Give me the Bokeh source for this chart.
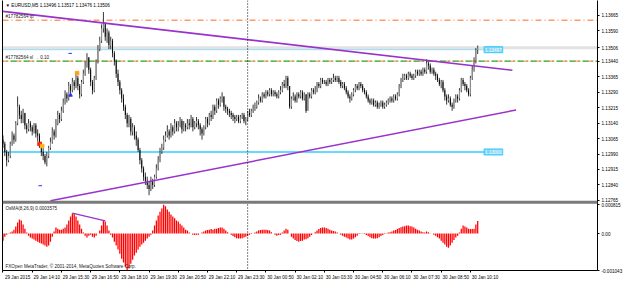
from bokeh.plotting import figure
from bokeh.models import Range1d, LinearAxis, FixedTicker, Span, Label, ColumnDataSource
from bokeh.embed import file_html
from bokeh.resources import INLINE

FONT = "Liberation Sans"
FS = "4.6px"

# ---------------- data ----------------
TIME_LABELS = ["29 Jan 2015", "29 Jan 14:10", "29 Jan 15:30", "29 Jan 16:50", "29 Jan 18:10",
               "29 Jan 19:30", "29 Jan 20:50", "29 Jan 22:10", "29 Jan 23:30", "30 Jan 00:50",
               "30 Jan 02:10", "30 Jan 03:30", "30 Jan 04:50", "30 Jan 06:10", "30 Jan 07:30",
               "30 Jan 08:50", "30 Jan 10:10"]
BARS_PER_LABEL = 16
DAY_SEPARATOR_BAR = 134

FIRST_OPEN = 1.1306
CLOSE = [
    1.1304, 1.1300, 1.1296, 1.1298, 1.1304, 1.1308, 1.1306, 1.1314, 1.1322, 1.1318,
    1.1316, 1.1319, 1.1313, 1.1311, 1.1314, 1.1312, 1.1310, 1.1313, 1.1309, 1.1308,
    1.1304, 1.1300, 1.1298, 1.1295, 1.1298, 1.1302, 1.1305, 1.1310, 1.1308, 1.1314,
    1.1318, 1.1316, 1.1320, 1.1324, 1.1328, 1.1326, 1.1332, 1.1330, 1.1334, 1.1332,
    1.1336, 1.1332, 1.1328, 1.1334, 1.1338, 1.1342, 1.1346, 1.1340, 1.1334, 1.1330,
    1.1336, 1.1344, 1.1350, 1.1354, 1.1360, 1.1362, 1.1356, 1.1358, 1.1352, 1.1354,
    1.1348, 1.1344, 1.1338, 1.1334, 1.1330, 1.1326, 1.1322, 1.1318, 1.1314, 1.1316,
    1.1310, 1.1312, 1.1308, 1.1306, 1.1301, 1.1296, 1.1292, 1.1288, 1.1286, 1.1284,
    1.1282, 1.1286, 1.1284, 1.1288, 1.1292, 1.1296, 1.1300, 1.1302, 1.1306, 1.1308,
    1.1310, 1.1308, 1.1312, 1.1310, 1.1314, 1.1312, 1.1313, 1.1315, 1.1311, 1.1313,
    1.1312, 1.1314, 1.1313, 1.1316, 1.1312, 1.1314, 1.1315, 1.1313, 1.1311, 1.1309,
    1.1312, 1.1316, 1.1314, 1.1318, 1.1317, 1.1322, 1.1320, 1.1325, 1.1323, 1.1326,
    1.1327, 1.1322, 1.1321, 1.1320, 1.1319, 1.1318, 1.1317, 1.1316, 1.1317, 1.1315,
    1.1317, 1.1318, 1.1315, 1.1316, 1.1319, 1.1318, 1.1320, 1.1321, 1.1322, 1.1324,
    1.1326, 1.1325, 1.1328, 1.1327, 1.1329, 1.1328, 1.1330, 1.1328, 1.1329, 1.1328,
    1.1327, 1.1329, 1.1330, 1.1333, 1.1332, 1.1336, 1.1332, 1.1322, 1.1326, 1.1327,
    1.1325, 1.1328, 1.1327, 1.1329, 1.1326, 1.1328, 1.1320, 1.1328, 1.1327, 1.1330,
    1.1329, 1.1330, 1.1333, 1.1332, 1.1335, 1.1334, 1.1334, 1.1333, 1.1335, 1.1334,
    1.1335, 1.1336, 1.1335, 1.1336, 1.1334, 1.1332, 1.1333, 1.1331, 1.1329, 1.1327,
    1.1326, 1.1328, 1.1330, 1.1332, 1.1331, 1.1333, 1.1332, 1.1330, 1.1329, 1.1327,
    1.1325, 1.1324, 1.1325, 1.1323, 1.1324, 1.1322, 1.1323, 1.1324, 1.1322, 1.1323,
    1.1324, 1.1325, 1.1326, 1.1325, 1.1327, 1.1326, 1.1328, 1.1332, 1.1335, 1.1336,
    1.1337, 1.1336, 1.1338, 1.1337, 1.1336, 1.1337, 1.1339, 1.1338, 1.1339, 1.1338,
    1.1340, 1.1339, 1.1343, 1.1342, 1.1339, 1.1340, 1.1338, 1.1337, 1.1335, 1.1333,
    1.1334, 1.1330, 1.1327, 1.1325, 1.1326, 1.1323, 1.1322, 1.1325, 1.1327, 1.1326,
    1.1330, 1.1335, 1.1333, 1.1332, 1.1330, 1.1328, 1.1336, 1.1340, 1.1344, 1.13496,
    1.13506]
HIGH = [
    1.1308, 1.1305, 1.1301, 1.1300, 1.1305, 1.1310, 1.1309, 1.1315, 1.1327, 1.1323,
    1.1320, 1.1321, 1.1319, 1.1314, 1.1316, 1.1315, 1.1313, 1.1314, 1.1314, 1.1311,
    1.1309, 1.1305, 1.1302, 1.1299, 1.1300, 1.1303, 1.1307, 1.1312, 1.1311, 1.1316,
    1.1320, 1.1319, 1.1322, 1.1326, 1.1330, 1.1329, 1.1334, 1.1333, 1.1336, 1.1335,
    1.1339, 1.1337, 1.1333, 1.1335, 1.1340, 1.1344, 1.1348, 1.1346, 1.1341, 1.1335,
    1.1337, 1.1345, 1.1352, 1.1356, 1.1362, 1.1368, 1.1363, 1.1360, 1.1359, 1.1356,
    1.1355, 1.1349, 1.1345, 1.1340, 1.1335, 1.1331, 1.1328, 1.1323, 1.1319, 1.1318,
    1.1317, 1.1314, 1.1313, 1.1310, 1.1307, 1.1302, 1.1297, 1.1293, 1.1290, 1.1288,
    1.1286, 1.1288, 1.1287, 1.1289, 1.1294, 1.1298, 1.1302, 1.1304, 1.1308, 1.1310,
    1.1313, 1.1311, 1.1314, 1.1313, 1.1316, 1.1315, 1.1315, 1.1317, 1.1316, 1.1315,
    1.1314, 1.1316, 1.1316, 1.1318, 1.1317, 1.1315, 1.1317, 1.1316, 1.1314, 1.1312,
    1.1313, 1.1317, 1.1317, 1.1319, 1.1320, 1.1323, 1.1323, 1.1326, 1.1326, 1.1327,
    1.1329, 1.1327, 1.1323, 1.1322, 1.1321, 1.1320, 1.1319, 1.1318, 1.1318, 1.1318,
    1.1318, 1.1319, 1.1319, 1.1317, 1.1320, 1.1321, 1.1321, 1.1323, 1.1324, 1.1325,
    1.1328, 1.1327, 1.1329, 1.1329, 1.1330, 1.1330, 1.1331, 1.1331, 1.1330, 1.1330,
    1.1329, 1.1330, 1.1332, 1.1334, 1.1335, 1.1337, 1.1337, 1.1332, 1.1327, 1.1329,
    1.1328, 1.1329, 1.1329, 1.1330, 1.1330, 1.1329, 1.1328, 1.1329, 1.1329, 1.1331,
    1.1331, 1.1332, 1.1334, 1.1334, 1.1336, 1.1336, 1.1335, 1.1335, 1.1336, 1.1336,
    1.1336, 1.1338, 1.1337, 1.1337, 1.1337, 1.1335, 1.1334, 1.1334, 1.1332, 1.1330,
    1.1328, 1.1329, 1.1331, 1.1333, 1.1333, 1.1334, 1.1334, 1.1333, 1.1331, 1.1330,
    1.1328, 1.1326, 1.1326, 1.1326, 1.1325, 1.1325, 1.1324, 1.1325, 1.1325, 1.1324,
    1.1325, 1.1326, 1.1327, 1.1327, 1.1328, 1.1328, 1.1329, 1.1333, 1.1336, 1.1338,
    1.1338, 1.1338, 1.1339, 1.1339, 1.1338, 1.1338, 1.1340, 1.1340, 1.1340, 1.1340,
    1.1341, 1.1341, 1.1345, 1.1344, 1.1343, 1.1341, 1.1341, 1.1339, 1.1338, 1.1336,
    1.1335, 1.1335, 1.1331, 1.1328, 1.1328, 1.1327, 1.1324, 1.1326, 1.1328, 1.1328,
    1.1331, 1.1336, 1.1336, 1.1334, 1.1333, 1.1331, 1.1337, 1.1342, 1.1346, 1.13505,
    1.13517]
LOW = [
    1.1302, 1.1298, 1.1293, 1.1295, 1.1297, 1.1303, 1.1304, 1.1305, 1.1313, 1.1316,
    1.1314, 1.1314, 1.1311, 1.1309, 1.1310, 1.1310, 1.1308, 1.1309, 1.1307, 1.1305,
    1.1302, 1.1298, 1.1296, 1.1294, 1.1293, 1.1297, 1.1301, 1.1304, 1.1306, 1.1307,
    1.1313, 1.1314, 1.1315, 1.1319, 1.1323, 1.1324, 1.1325, 1.1328, 1.1329, 1.1330,
    1.1331, 1.1330, 1.1326, 1.1327, 1.1333, 1.1337, 1.1341, 1.1338, 1.1332, 1.1328,
    1.1329, 1.1335, 1.1343, 1.1349, 1.1353, 1.1358, 1.1354, 1.1353, 1.1350, 1.1350,
    1.1346, 1.1342, 1.1336, 1.1332, 1.1328, 1.1324, 1.1320, 1.1316, 1.1312, 1.1312,
    1.1308, 1.1308, 1.1306, 1.1303, 1.1300, 1.1294, 1.1290, 1.1286, 1.1284, 1.1282,
    1.1279, 1.1281, 1.1282, 1.1283, 1.1287, 1.1291, 1.1295, 1.1299, 1.1301, 1.1305,
    1.1307, 1.1306, 1.1307, 1.1308, 1.1309, 1.1310, 1.1310, 1.1312, 1.1309, 1.1310,
    1.1310, 1.1311, 1.1311, 1.1312, 1.1310, 1.1311, 1.1312, 1.1311, 1.1308, 1.1306,
    1.1308, 1.1311, 1.1312, 1.1313, 1.1315, 1.1316, 1.1318, 1.1319, 1.1321, 1.1322,
    1.1324, 1.1320, 1.1319, 1.1318, 1.1317, 1.1316, 1.1315, 1.1314, 1.1315, 1.1314,
    1.1314, 1.1316, 1.1314, 1.1313, 1.1315, 1.1317, 1.1317, 1.1319, 1.1320, 1.1321,
    1.1323, 1.1324, 1.1324, 1.1326, 1.1326, 1.1327, 1.1327, 1.1327, 1.1327, 1.1327,
    1.1326, 1.1326, 1.1328, 1.1329, 1.1331, 1.1331, 1.1330, 1.1321, 1.1321, 1.1325,
    1.1324, 1.1324, 1.1326, 1.1326, 1.1325, 1.1325, 1.1319, 1.1320, 1.1326, 1.1326,
    1.1328, 1.1328, 1.1329, 1.1331, 1.1331, 1.1333, 1.1333, 1.1332, 1.1332, 1.1333,
    1.1333, 1.1334, 1.1334, 1.1334, 1.1333, 1.1331, 1.1331, 1.1330, 1.1328, 1.1326,
    1.1324, 1.1325, 1.1327, 1.1329, 1.1330, 1.1330, 1.1331, 1.1329, 1.1328, 1.1326,
    1.1324, 1.1323, 1.1323, 1.1322, 1.1322, 1.1321, 1.1321, 1.1322, 1.1321, 1.1321,
    1.1322, 1.1323, 1.1324, 1.1324, 1.1324, 1.1325, 1.1325, 1.1327, 1.1331, 1.1334,
    1.1335, 1.1335, 1.1335, 1.1336, 1.1335, 1.1335, 1.1336, 1.1337, 1.1337, 1.1337,
    1.1337, 1.1338, 1.1338, 1.1340, 1.1338, 1.1338, 1.1337, 1.1335, 1.1334, 1.1332,
    1.1331, 1.1329, 1.1325, 1.1323, 1.1324, 1.1322, 1.1320, 1.1321, 1.1324, 1.1324,
    1.1325, 1.1329, 1.1332, 1.1330, 1.1329, 1.1327, 1.1327, 1.1335, 1.1339, 1.1343,
    1.13476]
OSMA = [
    -0.00020, -0.00009, -0.00003, 0.00001, 0.00003, 0.00006, 0.00011, 0.00020, 0.00031, 0.00040,
    0.00037, 0.00026, 0.00014, 0.00003, -0.00006, -0.00011, -0.00014, -0.00017, -0.00020, -0.00023,
    -0.00026, -0.00028, -0.00031, -0.00034, -0.00037, -0.00034, -0.00023, -0.00009, 0.00006, 0.00017,
    0.00014, 0.00011, 0.00011, 0.00014, 0.00017, 0.00026, 0.00037, 0.00048, 0.00057, 0.00055,
    0.00048, 0.00037, 0.00026, 0.00014, 0.00003, -0.00006, -0.00011, -0.00006, -0.00003, -0.00009,
    -0.00011, -0.00006, 0.00000, 0.00009, 0.00023, 0.00036, 0.00034, 0.00023, 0.00009, -0.00003,
    -0.00011, -0.00023, -0.00034, -0.00045, -0.00057, -0.00071, -0.00082, -0.00094, -0.001043, -0.00099,
    -0.00085, -0.00074, -0.00062, -0.00054, -0.00045, -0.00037, -0.00031, -0.00026, -0.00020, -0.00014,
    -0.00009, -0.00003, 0.00009, 0.00023, 0.00037, 0.00051, 0.00062, 0.00071, 0.000815, 0.00077,
    0.00068, 0.00062, 0.00054, 0.00048, 0.00043, 0.00037, 0.00034, 0.00028, 0.00023, 0.00017,
    0.00011, 0.00009, 0.00003, 0.00000, -0.00003, -0.00004, -0.00003, -0.00003, 0.00000, 0.00003,
    0.00006, 0.00009, 0.00010, 0.00011, 0.00013, 0.00011, 0.00014, 0.00014, 0.00016, 0.00017,
    0.00017, 0.00014, 0.00009, 0.00004, 0.00000, -0.00003, -0.00007, -0.00010, -0.00013, -0.00014,
    -0.00014, -0.00013, -0.00011, -0.00009, -0.00006, -0.00003, -0.00001, 0.00000, 0.00003, 0.00006,
    0.00009, 0.00010, 0.00011, 0.00011, 0.00011, 0.00010, 0.00009, 0.00004, 0.00000, -0.00003,
    -0.00006, -0.00004, -0.00003, 0.00003, 0.00009, 0.00014, 0.00011, 0.00000, -0.00009, -0.00014,
    -0.00018, -0.00021, -0.00023, -0.00021, -0.00020, -0.00017, -0.00016, -0.00013, -0.00009, -0.00004,
    0.00000, 0.00004, 0.00009, 0.00013, 0.00016, 0.00017, 0.00017, 0.00016, 0.00014, 0.00011,
    0.00009, 0.00007, 0.00006, 0.00003, 0.00000, -0.00003, -0.00006, -0.00009, -0.00011, -0.00014,
    -0.00017, -0.00017, -0.00014, -0.00010, -0.00006, -0.00001, 0.00001, 0.00001, -0.00001, -0.00004,
    -0.00007, -0.00010, -0.00013, -0.00014, -0.00014, -0.00013, -0.00010, -0.00007, -0.00004, -0.00001,
    0.00001, 0.00003, 0.00004, 0.00006, 0.00009, 0.00010, 0.00013, 0.00016, 0.00018, 0.00020,
    0.00021, 0.00023, 0.00023, 0.00021, 0.00020, 0.00017, 0.00014, 0.00011, 0.00009, 0.00006,
    0.00004, 0.00003, 0.00006, 0.00004, 0.00001, 0.00000, -0.00003, -0.00006, -0.00010, -0.00014,
    -0.00020, -0.00026, -0.00031, -0.00037, -0.00040, -0.00034, -0.00026, -0.00018, -0.00011, -0.00006,
    0.00003, 0.00014, 0.00023, 0.00020, 0.00017, 0.00014, 0.00013, 0.00013, 0.00014, 0.00026,
    0.0003575]

PRICE_TICKS = [1.12765, 1.12840, 1.12915, 1.12990, 1.13065, 1.13140, 1.13215,
               1.13290, 1.13365, 1.13440, 1.13506, 1.13590, 1.13665]
PRICE_TICK_LABELS = ["1.12765", "1.12840", "1.12915", "1.12990", "1.13065", "1.13140", "1.13215",
                     "1.13290", "1.13365", "1.13440", "1.13506", "1.13590", "1.13665"]
OSMA_TICKS = [-0.001043, 0.0, 0.000815]
OSMA_TICK_LABELS = ["-0.001043", "0.00", "0.000815"]

CUR_PRICE = 1.13506
CUR_PRICE_TEXT = "1.13506"
TP_PRICE = 1.13640
ORDER_PRICE = 1.13441
HLINE_A = 1.13497
HLINE_B = 1.13000
HLINE_A_TEXT = "1.13497"
HLINE_B_TEXT = "1.13000"

TL1_X = [0, 279]
TL1_Y = [1.13683, 1.13397]
TL2_X = [26, 281]
TL2_Y = [1.12763, 1.13204]
DIV_X = [38, 56]
DIV_Y = [0.00058, 0.00036]

MARK_X = [36.8, 20.4, 37.0, 40.6, 20.0, 21.5]
MARK_Y = [1.13479, 1.12836, 1.13276, 1.13383, 1.13039, 1.13029]
MARK_COLOR = ["#2233ff", "#2233ff", "#2233ff", "#ffa020", "#ff2a00", "#ffb020"]
MARK_SHAPE = ["dash", "dash", "triangle", "square", "square", "square"]

HEADER = "\u25bc EURUSD,M5  1.13496 1.13517 1.13476 1.13506"
OSMA_TITLE = "OsMA(8,26,9) 0.0003575"
COPYRIGHT = "FXOpen MetaTrader, \u00a9 2001-2014, MetaQuotes Software Corp."
TP_TEXT = "#17782564 tp"
ORDER_TEXT = "#17782564 sl  \u2192 0.10"

# ---------------- layout (pixels of the two MT4 windows) ----------------
FRAME_H = 271.0
MAIN_PX = (0.0, 201.0)
SUB_PX = (205.0, 271.0)
MAIN_TOP, MAIN_BOT = 1.13736, 1.12763
SUB_TOP, SUB_BOT = 0.000815, -0.001043
SEP_PX = 202.5
PX_PER_BAR = 1.835
X0 = -0.27
X1 = X0 + 598 / PX_PER_BAR
LABEL_BAR = 263.5

km = (MAIN_TOP - MAIN_BOT) / (MAIN_PX[1] - MAIN_PX[0])
ks = (SUB_TOP - SUB_BOT) / (SUB_PX[1] - SUB_PX[0])
y_end = MAIN_TOP + MAIN_PX[0] * km
y_start = MAIN_TOP - FRAME_H * km
o_end = SUB_TOP + SUB_PX[0] * ks
o_start = SUB_BOT - (FRAME_H - SUB_PX[1]) * ks


def sub_to_main(v):
    ypx = SUB_PX[0] + (SUB_TOP - v) / ks
    return MAIN_TOP - ypx * km


n = len(CLOSE)
bars = list(range(n))
opens = [FIRST_OPEN] + CLOSE[:-1]
src = ColumnDataSource(dict(
    x=bars, h=HIGH, l=LOW,
    top=[max(o, c) for o, c in zip(opens, CLOSE)],
    bot=[min(o, c) for o, c in zip(opens, CLOSE)],
    fill=["#9a9a9a" if c >= o else "#000000" for o, c in zip(opens, CLOSE)],
    osma=OSMA,
))

p = figure(width=625, height=282, x_range=Range1d(X0, X1), y_range=Range1d(y_start, y_end),
           output_backend="svg", toolbar_location=None, y_axis_location=None,
           min_border_left=2, min_border_right=0, min_border_top=0, min_border_bottom=11,
           background_fill_color="white", border_fill_color="white", outline_line_color=None)
p.grid.visible = False
p.extra_y_ranges = {"osma": Range1d(o_start, o_end)}

# left border line
left_ax = LinearAxis(ticker=FixedTicker(ticks=[]), major_label_text_font_size="0px",
                     major_tick_out=0, major_tick_in=0, minor_tick_out=0, minor_tick_in=0,
                     major_label_standoff=0, axis_line_color="black")
p.add_layout(left_ax, "left")

# right price axis
ticks = PRICE_TICKS + [sub_to_main(v) for v in OSMA_TICKS]
labels = PRICE_TICK_LABELS + OSMA_TICK_LABELS
ya = LinearAxis(ticker=FixedTicker(ticks=ticks), major_label_overrides=dict(zip(ticks, labels)),
                major_tick_out=2, major_tick_in=0, minor_tick_out=0, minor_tick_in=0,
                major_label_standoff=2, major_label_text_font_size=FS,
                major_label_text_font=FONT, major_label_text_color="black",
                axis_line_color="black")
p.add_layout(ya, "right")

# time axis
tick_pos = [BARS_PER_LABEL * k for k in range(len(TIME_LABELS))]
label_pos = [t + BARS_PER_LABEL // 2 for t in tick_pos]
xa = p.xaxis[0]
xa.ticker = FixedTicker(ticks=label_pos, minor_ticks=tick_pos)
xa.major_label_overrides = dict(zip(label_pos, TIME_LABELS))
xa.major_tick_out = 0
xa.major_tick_in = 0
xa.minor_tick_out = 2
xa.minor_tick_in = 0
xa.major_label_standoff = 2
xa.major_label_text_font_size = FS
xa.major_label_text_font = FONT
xa.major_label_text_color = "black"
xa.axis_line_color = "black"

# horizontal order / level lines
p.add_layout(Span(location=CUR_PRICE, dimension="width", line_color="#e2e2e2", line_width=3, level="underlay"))
p.add_layout(Span(location=TP_PRICE, dimension="width", line_color="#ff9a6a", line_width=1.3,
                  line_dash="6 3 1 3", level="underlay"))
p.add_layout(Span(location=ORDER_PRICE, dimension="width", line_color="#ff9a6a", line_width=1.3,
                  line_dash="6 3 1 3", level="underlay"))
p.add_layout(Span(location=ORDER_PRICE, dimension="width", line_color="#2aa82a", line_width=1.3,
                  line_dash="6 3 1 3", line_dash_offset=5, level="underlay"))
p.line([X0, LABEL_BAR], [HLINE_A, HLINE_A], line_color="#33bbee", line_width=1, line_dash="1 1")
p.line([X0, LABEL_BAR], [HLINE_B, HLINE_B], line_color="#33ccff", line_width=1.5)

# candles
p.segment(x0="x", y0="h", x1="x", y1="l", source=src, line_color="#202020", line_width=0.9)
p.vbar(x="x", top="top", bottom="bot", width=0.5, fill_color="fill", line_color=None, source=src)

# trend lines
p.line(TL1_X, TL1_Y, line_color="#9932cc", line_width=1.7)
p.line(TL2_X, TL2_Y, line_color="#9932cc", line_width=1.4)

# trade markers
p.scatter(x=MARK_X, y=MARK_Y, marker=MARK_SHAPE, color=MARK_COLOR, size=3.5)

# OsMA histogram
p.vbar(x="x", top="osma", bottom=0, width=0.7, fill_color="#ff0000", line_color=None,
       source=src, y_range_name="osma")
p.line(DIV_X, DIV_Y, line_color="#9932cc", line_width=1.2, y_range_name="osma")

# separators
p.add_layout(Span(location=DAY_SEPARATOR_BAR, dimension="height", line_color="black",
                  line_width=1, line_dash="1 2"))
p.add_layout(Span(location=MAIN_TOP - SEP_PX * km, dimension="width", line_color="#7a7a7a",
                  line_width=3))

# texts
def lab(**kw):
    base = dict(text_font=FONT, text_font_size=FS, text_color="#222222")
    base.update(kw)
    p.add_layout(Label(**base))

lab(x=X0, y=y_end, x_offset=3, y_offset=-2, text=HEADER, text_baseline="top", text_color="black")
lab(x=X0, y=TP_PRICE, x_offset=3, y_offset=1, text=TP_TEXT, text_baseline="bottom")
lab(x=X0, y=ORDER_PRICE, x_offset=3, y_offset=1, text=ORDER_TEXT, text_baseline="bottom")
lab(x=X0, y=SUB_TOP, y_range_name="osma", x_offset=3, y_offset=-1, text=OSMA_TITLE,
    text_baseline="top")
lab(x=X0, y=SUB_BOT, y_range_name="osma", x_offset=3, y_offset=2, text=COPYRIGHT,
    text_baseline="bottom")
lab(x=LABEL_BAR, y=HLINE_A, text=HLINE_A_TEXT, text_baseline="middle", text_color="#ffffff",
    background_fill_color="#7fd4f5", border_line_color="#33ccff", padding=1)
lab(x=LABEL_BAR, y=HLINE_B, text=HLINE_B_TEXT, text_baseline="middle", text_color="#ffffff",
    background_fill_color="#7fd4f5", border_line_color="#33ccff", padding=1)
# current-price box over the price scale
lab(x=600, x_units="screen", y=CUR_PRICE, x_offset=0, text=CUR_PRICE_TEXT,
    text_baseline="middle", text_color="white", background_fill_color="black", padding=1)

open("out.html", "w").write(file_html(p, INLINE))
